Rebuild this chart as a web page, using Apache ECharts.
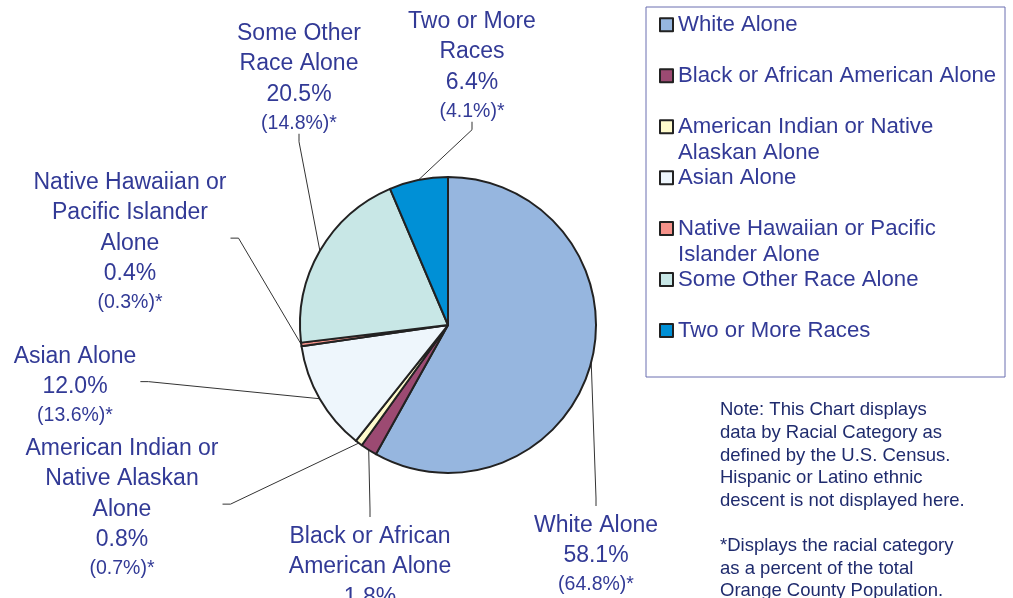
<!DOCTYPE html>
<html>
<head>
<meta charset="utf-8">
<script src="https://cdn.jsdelivr.net/npm/echarts@6/dist/echarts.min.js"></script>
<style>
html,body{margin:0;padding:0;background:#fff}
#main{width:1013px;height:598px}
</style>
</head>
<body>
<div id="main"></div>
<script>
// race categories, order as drawn clockwise from 12 o'clock
var categories = ['White Alone', 'Black or African American Alone', 'American Indian or Native Alaskan Alone',
	'Asian Alone', 'Native Hawaiian or Pacific Islander Alone', 'Some Other Race Alone', 'Two or More Races'];
var legendText = ['White Alone', 'Black or African American Alone', 'American Indian or Native\nAlaskan Alone',
	'Asian Alone', 'Native Hawaiian or Pacific\nIslander Alone', 'Some Other Race Alone', 'Two or More Races'];
var labelText = [['White Alone'], ['Black or African', 'American Alone'], ['American Indian or', 'Native Alaskan', 'Alone'],
	['Asian Alone'], ['Native Hawaiian or', 'Pacific Islander', 'Alone'], ['Some Other', 'Race Alone'], ['Two or More', 'Races']];
var cityPct = [58.1, 1.8, 0.8, 12.0, 0.4, 20.5, 6.4];
var countyPct = [64.8, null, 0.7, 13.6, 0.3, 14.8, 4.1];
var colors = ['#96b6df', '#9c4a72', '#fffbcc', '#eef6fc', '#f5928a', '#c8e7e6', '#0090d6'];

var noteText = 'Note: This Chart displays\ndata by Racial Category as\ndefined by the U.S. Census.\nHispanic or Latino ethnic\ndescent is not displayed here.\n\n*Displays the racial category\nas a percent of the total\nOrange County Population.';

// label block: center x, top y
var labelPos = [[596, 510], [370, 521], [122, 433], [75, 341], [130, 167], [299, 18], [472, 6]];
var pieCenter = [448, 325];

window.onload = function(){
	drawPie()
}

function drawPie(){
	var myChart = echarts.init(document.getElementById('main'));

	var data = [];
	for (var i = 0; i < categories.length; i++) {
		data.push({value: cityPct[i], name: categories[i], itemStyle: {color: colors[i]}});
	}

	// one legend per entry so that wrapped names keep the same row pitch
	var legends = [];
	for (var j = 0; j < categories.length; j++) {
		var lines = legendText[j].split('\n').length;
		var boxH = 26 * (2 * lines - 1);
		var cy = 24.8 + 50.95 * j;
		legends.push({
			orient: 'vertical',
			left: 659,
			top: cy - boxH / 2,
			padding: 0,
			itemWidth: 13,
			itemHeight: 13,
			icon: 'rect',
			selectedMode: false,
			formatter: function(name){
				var t = legendText[categories.indexOf(name)];
				var n = t.split('\n').length;
				// empty lines on top keep the first line level with the marker
				return new Array(n).join('\n') + t;
			},
			textStyle: {
				color: '#323a96',
				fontFamily: 'Liberation Sans',
				fontSize: 22.2,
				lineHeight: 26
			},
			data: [categories[j]]
		});
	}

	option = {
		animation: false,
		title: {
			text: noteText,
			left: 720,
			top: 399,
			padding: 0,
			textStyle: {
				color: '#1f2b6d',
				fontFamily: 'Liberation Sans',
				fontWeight: 'normal',
				fontSize: 18.5,
				lineHeight: 22.6
			}
		},
		legend: legends,
		graphic: [{
			type: 'rect',
			shape: {x: 646, y: 7, width: 359, height: 370},
			style: {fill: 'none', stroke: '#6b6fb0', lineWidth: 1}
		}],
		series: [{
			type: 'pie',
			center: pieCenter,
			radius: 148,
			startAngle: 90,
			clockwise: true,
			itemStyle: {
				borderColor: '#222',
				borderWidth: 2
			},
			label: {
				show: true,
				position: 'outside',
				formatter: function(p){
					var i = p.dataIndex;
					var s = labelText[i].map(function(t){ return '{n|' + t + '}'; });
					s.push('{n|' + cityPct[i].toFixed(1) + '%}');
					if (countyPct[i] != null) s.push('{s|(' + countyPct[i].toFixed(1) + '%)*}');
					return s.join('\n');
				},
				rich: {
					n: {fontFamily: 'Liberation Sans', fontSize: 23, lineHeight: 30.5, color: '#323a96'},
					s: {fontFamily: 'Liberation Sans', fontSize: 19.5, lineHeight: 28, color: '#323a96'}
				}
			},
			labelLine: {
				show: true,
				lineStyle: {color: '#333', width: 1}
			},
			labelLayout: function(params){
				var i = params.dataIndex;
				var x = labelPos[i][0], y = labelPos[i][1];
				var w = params.labelRect.width, h = params.labelRect.height;
				var start = params.labelLinePoints[0];
				var gap = 4, hook = 8, end, mid;
				if (x + w / 2 < pieCenter[0] - 148) {
					// label to the left
					end = [x + w / 2 + gap, y + h / 2];
					mid = [x + w / 2 + gap + hook, y + h / 2];
				} else if (y > pieCenter[1] + 100) {
					// label below the pie
					end = [x, y - gap];
					mid = [x, y - gap - hook];
				} else {
					// label above
					end = [x, y + h + gap];
					mid = [x, y + h + gap + hook];
				}
				return {
					x: x,
					y: y,
					align: 'center',
					verticalAlign: 'top',
					labelLinePoints: [start, mid, end]
				};
			},
			data: data
		}]
	};

	myChart.setOption(option);
}
</script>
</body>
</html>
